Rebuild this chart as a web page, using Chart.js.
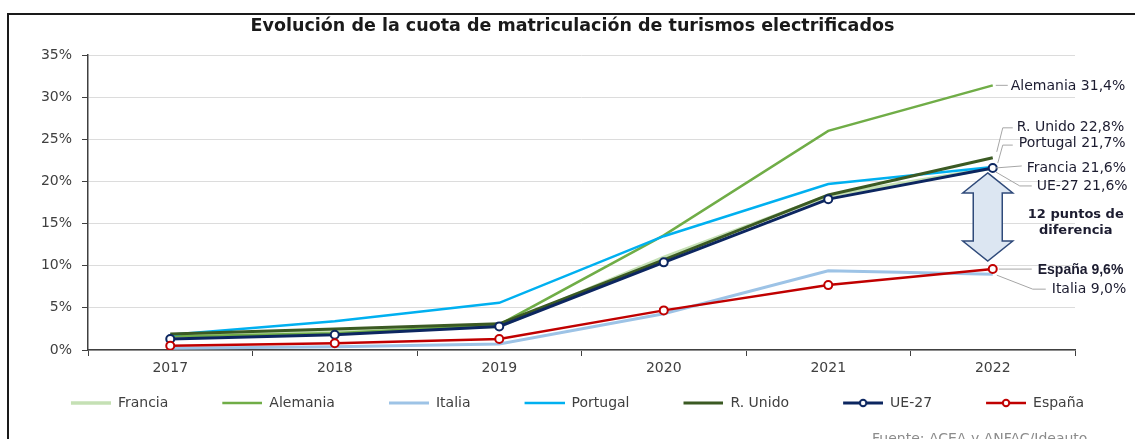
<!DOCTYPE html>
<html>
<head>
<meta charset="utf-8">
<script src="https://cdn.jsdelivr.net/npm/chart.js@4"></script>
<style>
  body { margin: 0; background: #fff; }
  #wrap { position: relative; width: 1135px; height: 439px; }
</style>
</head>
<body>
<div id="wrap"><canvas id="myChart" width="1135" height="439"></canvas></div>
<script>
// datos (% cuota de turismos electrificados)
const years = ['2017', '2018', '2019', '2020', '2021', '2022'];
const francia  = [1.7, 2.2, 2.8, 11.0, 18.3, 21.6];
const alemania = [1.6, 2.0, 3.0, 13.6, 26.0, 31.4];
const italia   = [0.2, 0.4, 0.7, 4.3, 9.4, 9.0];
const portugal = [1.8, 3.4, 5.6, 13.5, 19.7, 21.7];
const rUnido   = [1.9, 2.5, 3.1, 10.7, 18.4, 22.8];
const ue27     = [1.3, 1.8, 2.8, 10.4, 17.9, 21.6];
const espana   = [0.5, 0.8, 1.3, 4.7, 7.7, 9.6];
const yTicks = [0, 5, 10, 15, 20, 25, 30, 35];

const FONT = 'DejaVu Sans';

function legendIcon(color, width, marker) {
    const c = document.createElement('canvas');
    c.width = 92; c.height = 12;
    const g = c.getContext('2d');
    g.strokeStyle = color;
    g.lineWidth = width;
    g.beginPath(); g.moveTo(52, 6); g.lineTo(92, 6); g.stroke();
    if (marker) {
        g.fillStyle = '#fff';
        g.lineWidth = 2;
        g.beginPath(); g.arc(72, 6, 3.2, 0, Math.PI * 2); g.fill(); g.stroke();
    }
    return c;
}

function serie(label, data, color, width, order, marker) {
    return {
        label: label,
        data: data,
        borderColor: color,
        backgroundColor: color,
        borderWidth: width,
        pointRadius: marker ? 4 : 0,
        pointBorderWidth: 2,
        pointBackgroundColor: '#fff',
        pointBorderColor: color,
        tension: 0,
        order: order,
        marker: marker
    };
}

const datasets = [
    serie('Francia', francia, '#c5e0b4', 3.5, 7, false),
    serie('Alemania', alemania, '#70ad47', 2.5, 5, false),
    serie('Italia', italia, '#9dc3e6', 3, 6, false),
    serie('Portugal', portugal, '#00b0f0', 2.5, 4, false),
    serie('R. Unido', rUnido, '#3b5a23', 3, 3, false),
    serie('UE-27', ue27, '#0c2660', 3, 2, true),
    serie('España', espana, '#c00000', 2.5, 1, true)
];

// etiquetas a la derecha: [texto, dataset, dx, dy del texto, puntos de la guia, fuente]
const endLabels = [
    ['Alemania 31,4%', 1, 18, 1, [[3, 0], [15, 0]], '14px DejaVu Sans'],
    ['R. Unido 22,8%', 4, 24, -30, [[4, -6], [10, -30], [20, -30]], '14px DejaVu Sans'],
    ['Portugal 21,7%', 3, 26, -24, [[5, -4], [10, -22], [20, -22]], '14px DejaVu Sans'],
    ['Francia 21,6%', 0, 34, 0, [[3, 0], [29, -2]], '14px DejaVu Sans'],
    ['UE-27 21,6%', 5, 44, 18, [[3, 4], [27, 18], [39, 18]], '14px DejaVu Sans'],
    ['España 9,6%', 6, 45, 1, [[6, 0], [39, 0]], 'bold 14px Liberation Sans'],
    ['Italia 9,0%', 2, 59, 15, [[4, 1], [40, 15], [53, 15]], '14px DejaVu Sans']
];

const extras = {
    id: 'extras',
    afterLayout(chart) {
        // desplazar titulo y leyenda como en el original
        chart.titleBlock.left += 35; chart.titleBlock.right += 35;
        chart.legend.left += 14; chart.legend.right += 14;
    },
    afterDraw(chart) {
        const ctx = chart.ctx;
        const xs = chart.scales.x, ys = chart.scales.y;
        const last = years.length - 1;
        const xEnd = xs.getPixelForValue(last);
        ctx.save();
        // marco
        ctx.strokeStyle = '#1a1a1a';
        ctx.lineWidth = 2;
        ctx.beginPath();
        ctx.moveTo(1135, 14); ctx.lineTo(8, 14); ctx.lineTo(8, 439);
        ctx.stroke();

        // flecha doble
        const yTop = ys.getPixelForValue(ue27[last]) + 5;
        const yBot = ys.getPixelForValue(espana[last]) - 8;
        const cx = xEnd - 5, hw = 25, sw = 14.5, hh = 20;
        ctx.beginPath();
        ctx.moveTo(cx, yTop);
        ctx.lineTo(cx + hw, yTop + hh);
        ctx.lineTo(cx + sw, yTop + hh);
        ctx.lineTo(cx + sw, yBot - hh);
        ctx.lineTo(cx + hw, yBot - hh);
        ctx.lineTo(cx, yBot);
        ctx.lineTo(cx - hw, yBot - hh);
        ctx.lineTo(cx - sw, yBot - hh);
        ctx.lineTo(cx - sw, yTop + hh);
        ctx.lineTo(cx - hw, yTop + hh);
        ctx.closePath();
        ctx.fillStyle = '#dce6f2';
        ctx.fill();
        ctx.strokeStyle = '#2f4a7a';
        ctx.lineWidth = 1.5;
        ctx.stroke();

        // etiquetas finales con guias
        ctx.textBaseline = 'middle';
        endLabels.forEach(l => {
            const ds = chart.data.datasets[l[1]];
            const y0 = ys.getPixelForValue(ds.data[last]);
            ctx.strokeStyle = '#a6a6a6';
            ctx.lineWidth = 1;
            ctx.beginPath();
            l[4].forEach((p, i) => {
                if (i === 0) ctx.moveTo(xEnd + p[0], y0 + p[1]);
                else ctx.lineTo(xEnd + p[0], y0 + p[1]);
            });
            ctx.stroke();
            ctx.fillStyle = '#1c1c30';
            ctx.font = l[5];
            ctx.textAlign = 'left';
            ctx.fillText(l[0], xEnd + l[2], y0 + l[3]);
        });

        ctx.font = 'bold 13px ' + FONT;
        ctx.textAlign = 'center';
        ctx.fillStyle = '#1c1c30';
        const yMid = (yTop + yBot) / 2;
        ctx.fillText('12 puntos de', xEnd + 83, yMid - 2);
        ctx.fillText('diferencia', xEnd + 83, yMid + 14);

        ctx.font = '14px ' + FONT;
        ctx.fillStyle = '#8c8c8c';
        ctx.textAlign = 'left';
        ctx.textBaseline = 'alphabetic';
        ctx.fillText('Fuente: ACEA y ANFAC/Ideauto.', 872, 443);
        ctx.restore();
    }
};

const ctx = document.getElementById('myChart').getContext('2d');
const myChart = new Chart(ctx, {
    type: 'line',
    data: { labels: years, datasets: datasets },
    plugins: [extras],
    options: {
        responsive: false,
        animation: false,
        maintainAspectRatio: false,
        layout: { padding: { left: 0, right: 60, top: 0, bottom: 19 } },
        plugins: {
            tooltip: { enabled: false },
            title: {
                display: true,
                text: 'Evolución de la cuota de matriculación de turismos electrificados',
                color: '#1a1a1a',
                font: { family: FONT, size: 17.5, weight: 'bold' },
                padding: { top: 16, bottom: 18 }
            },
            legend: {
                position: 'bottom',
                labels: {
                    usePointStyle: true,
                    pointStyleWidth: 92,
                    padding: 2,
                    color: '#404040',
                    font: { family: FONT, size: 14 },
                    generateLabels(chart) {
                        return chart.data.datasets.map((ds, i) => ({
                            text: ds.label,
                            pointStyle: legendIcon(ds.borderColor, ds.borderWidth, ds.marker),
                            fillStyle: ds.borderColor,
                            strokeStyle: ds.borderColor,
                            lineWidth: 0,
                            hidden: false,
                            fontColor: '#404040',
                            datasetIndex: i
                        }));
                    }
                }
            }
        },
        scales: {
            x: {
                offset: true,
                grid: { drawOnChartArea: false, drawTicks: true, tickLength: 6, tickColor: '#404040', offset: true },
                border: { color: '#404040', width: 1.5 },
                ticks: { color: '#404040', font: { family: FONT, size: 14 }, padding: 4, maxRotation: 0 },
                afterFit(scale) { scale.height = 44; }
            },
            y: {
                min: 0,
                max: 35,
                afterBuildTicks(scale) { scale.ticks = yTicks.map(v => ({ value: v })); },
                grid: { color: '#dcdcdc', tickLength: 6, tickColor: '#404040' },
                border: { color: '#404040', width: 1.5 },
                ticks: { color: '#404040', font: { family: FONT, size: 14 }, padding: 10, callback: v => v + '%' },
                afterFit(scale) { scale.width = 88; }
            }
        }
    }
});
</script>
</body>
</html>
